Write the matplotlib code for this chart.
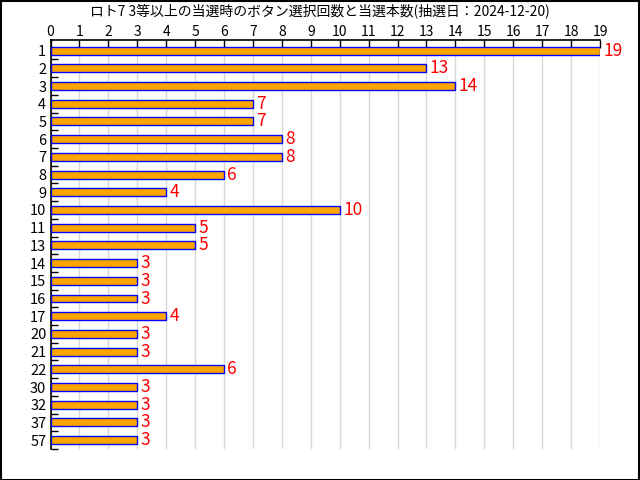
import matplotlib

matplotlib.use("Agg")
import matplotlib.pyplot as plt  # noqa: E402
import numpy as np  # noqa: E402
from matplotlib.patches import Rectangle  # noqa: E402

plt.rcParams["font.family"] = ["Noto Sans CJK JP", "DejaVu Sans"]

TITLE = "ロト7 3等以上の当選時のボタン選択回数と当選本数(抽選日：2024-12-20)"
BUTTONS = ["1", "2", "3", "4", "5", "6", "7", "8", "9", "10", "11", "13",
           "14", "15", "16", "17", "20", "21", "22", "30", "32", "37", "57"]
COUNTS = [19, 13, 14, 7, 7, 8, 8, 6, 4, 10, 5, 5,
          3, 3, 3, 4, 3, 3, 6, 3, 3, 3, 3]
X_TICKS = list(range(0, 20))

BAR_FACE = "#ffa500"
BAR_EDGE = "#0000ff"
LABEL_RED = "#ff0000"
GRID = "#d8d8d8"


def main():
    fig = plt.figure(figsize=(6.4, 4.8), dpi=100)
    ax = fig.add_axes((50.5 / 640, 31 / 480, 549.5 / 640, 409 / 480))
    fig.patches.append(Rectangle((0.001, 0.001), 0.997, 0.997,
                                 transform=fig.transFigure, fill=False,
                                 edgecolor="black", lw=1.5))

    y = np.arange(len(BUTTONS))
    ax.barh(y, COUNTS, height=0.45, color=BAR_FACE, edgecolor=BAR_EDGE,
            lw=1.0, zorder=3)
    for yi, c in zip(y, COUNTS):
        ax.text(c + 0.12, yi, str(c), color=LABEL_RED, fontsize=12.5,
                va="center", ha="left", zorder=4)

    ax.set_xlim(0, 19)
    # rows sit a touch below the top spine in the original
    ax.set_ylim(len(BUTTONS) - 0.6, -0.6)
    ax.set_yticks(y)
    ax.set_yticklabels(BUTTONS, fontsize=10.5)
    ax.set_yticks(np.arange(len(BUTTONS)) + 0.5, minor=True)
    ax.tick_params(axis="y", which="major", length=0, pad=3)
    ax.tick_params(axis="y", which="minor", direction="in", length=5,
                   width=1)

    ax.xaxis.tick_top()
    ax.set_xticks(X_TICKS)
    ax.tick_params(axis="x", direction="in", length=6, width=1,
                   labelsize=10, pad=1)
    ax.grid(axis="x", color=GRID, lw=1, zorder=0)

    ax.spines[["bottom", "right"]].set_visible(False)
    ax.spines[["top", "left"]].set_linewidth(1.2)

    fig.text(0.5, 1 - 11 / 480, TITLE, ha="center", va="center",
             fontsize=10)
    fig.savefig("out.png")


if __name__ == "__main__":
    main()
